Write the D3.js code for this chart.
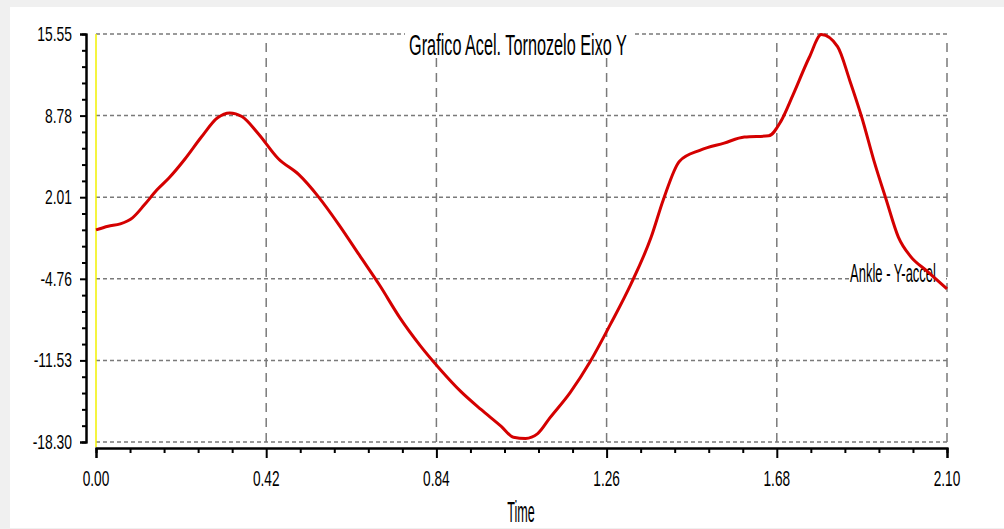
<!DOCTYPE html>
<html>
<head>
<meta charset="utf-8">
<script src="https://cdn.jsdelivr.net/npm/d3@7"></script>
<style>
  html, body { margin: 0; padding: 0; background: #f0f0f0; }
  svg { display: block; }
  text { font-family: "Liberation Sans", Arial, sans-serif; fill: #000; }
</style>
</head>
<body>
<div id="chart"></div>
<script>
// data
const times = [0, 0.03, 0.06, 0.09, 0.12, 0.15, 0.18, 0.22, 0.26, 0.30, 0.33, 0.36, 0.40, 0.45, 0.50, 0.55, 0.60, 0.65, 0.70, 0.75, 0.80, 0.85, 0.90, 0.95, 1.00, 1.03, 1.06, 1.09, 1.12, 1.17, 1.22, 1.27, 1.32, 1.37, 1.40, 1.44, 1.49, 1.55, 1.60, 1.66, 1.69, 1.72, 1.76, 1.79, 1.83, 1.86, 1.89, 1.92, 1.95, 1.98, 2.01, 2.05, 2.10];
const accel = [-0.7, -0.4, -0.2, 0.3, 1.4, 2.6, 3.6, 5.2, 7.0, 8.6, 9.0, 8.7, 7.3, 5.2, 3.9, 2.0, -0.3, -2.8, -5.3, -8.0, -10.3, -12.3, -14.1, -15.6, -17.0, -17.9, -18.0, -17.6, -16.3, -14.2, -11.6, -8.5, -5.2, -1.3, 1.8, 5.0, 5.9, 6.5, 7.0, 7.1, 8.3, 10.5, 13.6, 15.5, 14.5, 11.7, 8.6, 5.0, 1.8, -1.3, -2.9, -4.1, -5.6];
const xTicks = [0, 0.42, 0.84, 1.26, 1.68, 2.10];
const yTicks = [15.55, 8.78, 2.01, -4.76, -11.53, -18.30];
const title = 'Grafico Acel. Tornozelo Eixo Y';
const seriesName = 'Ankle - Y-accel';
const xTitle = 'Time';

const W = 1004, H = 529;
const plot = { left: 96, right: 947, top: 34, bottom: 442 };

const svg = d3.select('#chart').append('svg')
    .attr('width', W)
    .attr('height', H);

// white panel
svg.append('rect')
    .attr('x', 10).attr('y', 7)
    .attr('width', W - 10).attr('height', H - 8)
    .attr('fill', '#fff');

const x = d3.scaleLinear().domain([0, 2.10]).range([plot.left, plot.right]);
const y = d3.scaleLinear().domain([-18.30, 15.55]).range([plot.bottom, plot.top]);

// squeeze text horizontally like the narrow font of the original
function condense(sel, factor) {
    sel.each(function () {
        const w = this.getComputedTextLength();
        d3.select(this)
            .attr('textLength', w * factor)
            .attr('lengthAdjust', 'spacingAndGlyphs');
    });
}

// grid
const grid = svg.append('g');
grid.selectAll('.hgrid')
    .data(yTicks)
    .join('line')
    .attr('x1', plot.left).attr('x2', plot.right)
    .attr('y1', d => y(d)).attr('y2', d => y(d))
    .attr('stroke', '#7a7a7a')
    .attr('stroke-width', 1.5)
    .attr('stroke-dasharray', '4,3');
grid.selectAll('.vgrid')
    .data(xTicks.slice(1))
    .join('line')
    .attr('x1', d => x(d)).attr('x2', d => x(d))
    .attr('y1', plot.bottom).attr('y2', plot.top + 6)
    .attr('stroke', '#7a7a7a')
    .attr('stroke-width', 1.5)
    .attr('stroke-dasharray', '9,6');

// yellow line at t = 0
svg.append('line')
    .attr('x1', x(0)).attr('x2', x(0))
    .attr('y1', plot.top).attr('y2', plot.bottom + 5)
    .attr('stroke', '#f2f200')
    .attr('stroke-width', 1.5);

// axes: minor + major ticks
function minors(ticks) {
    const out = [];
    for (let i = 0; i < ticks.length - 1; i++) {
        for (let k = 1; k < 5; k++) out.push(ticks[i] + (ticks[i + 1] - ticks[i]) * k / 5);
    }
    return out;
}

const yAxisMinor = d3.axisLeft(y).tickValues(minors(yTicks)).tickSize(4).tickFormat('');
const yAxisMajor = d3.axisLeft(y).tickValues(yTicks).tickSize(6).tickFormat('');
const xAxisMinor = d3.axisBottom(x).tickValues(minors(xTicks)).tickSize(5).tickFormat('');
const xAxisMajor = d3.axisBottom(x).tickValues(xTicks).tickSize(10).tickFormat('');

[yAxisMinor, yAxisMajor].forEach(ax => {
    svg.append('g').attr('transform', 'translate(86,0)').call(ax)
        .call(g => g.selectAll('path, line').attr('stroke', '#000').attr('stroke-width', 2));
});
[xAxisMinor, xAxisMajor].forEach(ax => {
    svg.append('g').attr('transform', 'translate(0,448)').call(ax)
        .call(g => g.selectAll('path, line').attr('stroke', '#000').attr('stroke-width', 2));
});

// tick labels
svg.selectAll('.ylab')
    .data(yTicks)
    .join('text')
    .attr('x', 72)
    .attr('y', d => y(d) + 7)
    .attr('text-anchor', 'end')
    .attr('font-size', 21)
    .text(d => d.toFixed(2))
    .call(condense, 0.66);

svg.selectAll('.xlab')
    .data(xTicks)
    .join('text')
    .attr('x', d => x(d))
    .attr('y', 486)
    .attr('text-anchor', 'middle')
    .attr('font-size', 22)
    .text(d => d.toFixed(2))
    .call(condense, 0.62);

// axis title
svg.append('text')
    .attr('x', 521).attr('y', 522)
    .attr('text-anchor', 'middle')
    .attr('font-size', 30)
    .text(xTitle)
    .call(condense, 0.42);

// chart title with white background
svg.append('rect')
    .attr('x', 405).attr('y', 28)
    .attr('width', 228).attr('height', 30)
    .attr('fill', '#fff');
svg.append('text')
    .attr('x', 518).attr('y', 55)
    .attr('text-anchor', 'middle')
    .attr('font-size', 29)
    .text(title)
    .call(condense, 0.56);

// series label at the right end
svg.append('rect')
    .attr('x', 851).attr('y', 264)
    .attr('width', 95).attr('height', 22)
    .attr('fill', '#fff');
svg.append('text')
    .attr('x', 850).attr('y', 282)
    .attr('font-size', 25)
    .text(seriesName)
    .call(condense, 0.52);

// the curve
const pts = times.map((t, i) => [t, accel[i]]);
const line = d3.line()
    .x(d => x(d[0]))
    .y(d => y(d[1]))
    .curve(d3.curveMonotoneX);

svg.append('path')
    .datum(pts)
    .attr('d', line)
    .attr('fill', 'none')
    .attr('stroke', '#d40000')
    .attr('stroke-width', 3)
    .attr('stroke-linejoin', 'round');
</script>
</body>
</html>
